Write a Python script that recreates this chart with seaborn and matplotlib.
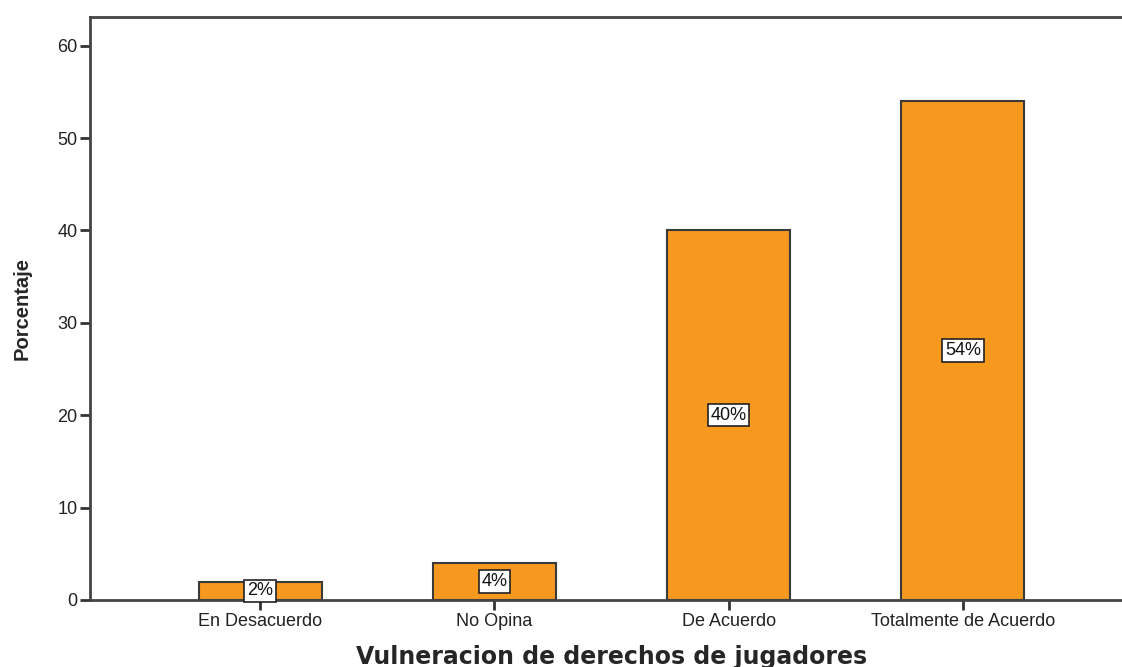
import pandas as pd
import matplotlib.pyplot as plt
import seaborn as sns

# Data
categories = ["En Desacuerdo", "No Opina", "De Acuerdo", "Totalmente de Acuerdo"]
porcentaje = [2, 4, 40, 54]
etiquetas = ["2%", "4%", "40%", "54%"]

df = pd.DataFrame({"categoria": categories, "porcentaje": porcentaje})

sns.set_style("white")
plt.rcParams["font.family"] = ["Liberation Sans", "DejaVu Sans"]

fig = plt.figure(figsize=(11.22, 6.67), dpi=100)
ax = fig.add_axes([90 / 1122, 1 - 600 / 667, 1043 / 1122, 583 / 667])

sns.barplot(
    data=df,
    x="categoria",
    y="porcentaje",
    color="#F7991F",
    saturation=1,
    width=0.525,
    edgecolor="#3a3a3a",
    linewidth=1.5,
    ax=ax
)

# Value labels in the middle of each bar
for i, (v, lab) in enumerate(zip(porcentaje, etiquetas)):
    ax.text(
        i, v / 2, lab,
        ha="center", va="center", fontsize=13, color="#111111",
        bbox=dict(boxstyle="square,pad=0.15", facecolor="white",
                  edgecolor="#222222", linewidth=1.2)
    )

ax.set_xlim(-0.726, 3.726)
ax.set_ylim(0, 63.1)
ax.set_yticks([0, 10, 20, 30, 40, 50, 60])

for side in ["left", "top", "bottom"]:
    ax.spines[side].set_color("#444444")
    ax.spines[side].set_linewidth(2)
ax.spines["right"].set_visible(False)

ax.tick_params(axis="both", which="major", direction="out", length=7,
               width=2, color="#333333", labelsize=13, labelcolor="#222222",
               left=True, bottom=True, pad=2)

ax.set_xlabel("Vulneracion de derechos de jugadores", fontsize=17,
              fontweight="bold", family="DejaVu Sans", va="center")
ax.set_ylabel("Porcentaje", fontsize=14.5, fontweight="bold", va="center")
ax.xaxis.set_label_coords(0.5, -0.098)
ax.yaxis.set_label_coords(-0.065, 0.5)

plt.savefig("out.png", dpi=100)
